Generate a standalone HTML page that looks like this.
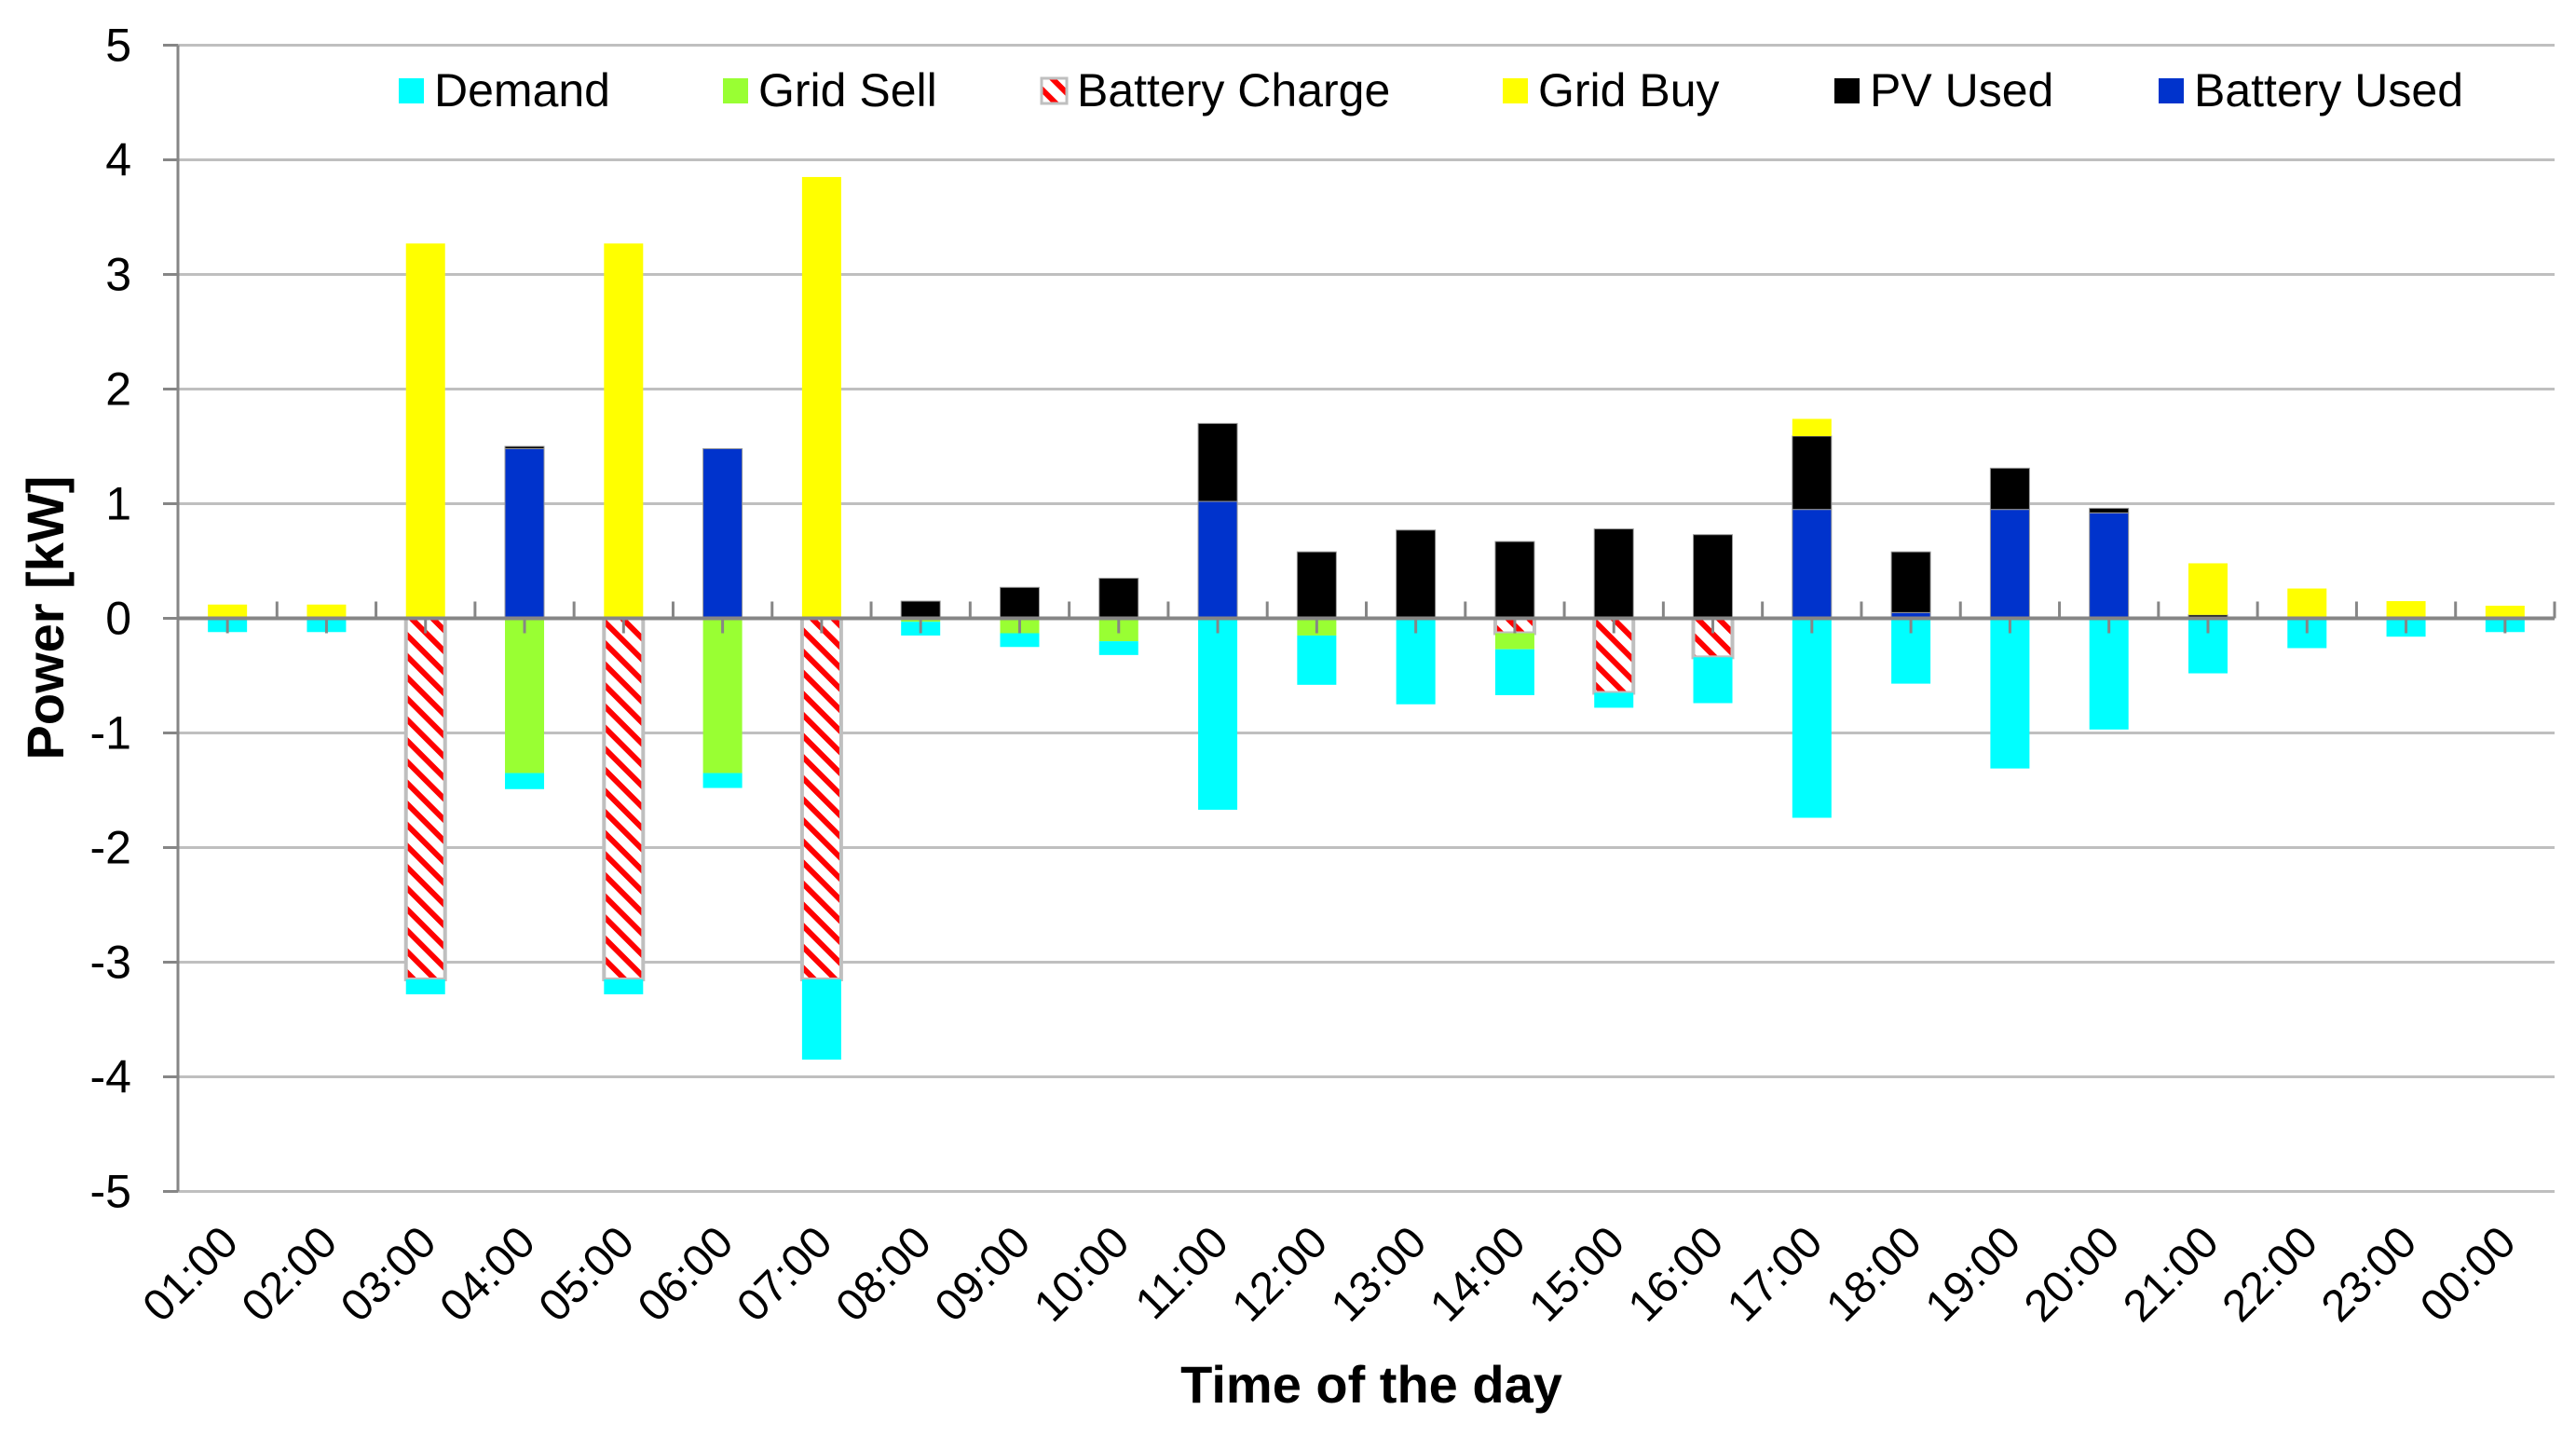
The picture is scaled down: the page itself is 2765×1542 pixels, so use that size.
<!DOCTYPE html>
<html><head><meta charset="utf-8">
<style>
html,body{margin:0;padding:0;background:#fff;}
svg{display:block;font-family:"Liberation Sans",sans-serif;}
</style></head>
<body>
<svg id="chart" width="2765" height="1542" viewBox="0 0 2765 1542" xmlns="http://www.w3.org/2000/svg">
<defs>
<pattern id="hatch" patternUnits="userSpaceOnUse" width="16" height="16" patternTransform="rotate(-45)">
<rect width="16" height="16" fill="#fff"/>
<rect x="0" y="0" width="6" height="16" fill="#ff0000"/>
</pattern>
</defs>
</svg>
<script>
const categories=["01:00","02:00","03:00","04:00","05:00","06:00","07:00","08:00","09:00","10:00","11:00","12:00","13:00","14:00","15:00","16:00","17:00","18:00","19:00","20:00","21:00","22:00","23:00","00:00"];
const batteryUsed=[0,0,0,1.48,0,1.48,0,0,0,0,1.02,0,0,0,0,0,0.95,0.05,0.95,0.92,0,0,0,0];
const pvUsed=[0,0,0,0.02,0,0,0,0.15,0.27,0.35,0.68,0.58,0.77,0.67,0.78,0.73,0.64,0.53,0.36,0.04,0.03,0,0,0];
const gridBuy=[0.12,0.12,3.27,0,3.27,0,3.85,0,0,0,0,0,0,0,0,0,0.15,0,0,0,0.45,0.26,0.15,0.11];
const batteryCharge=[0,0,-3.15,0,-3.15,0,-3.15,0,0,0,0,0,0,-0.13,-0.65,-0.34,0,0,0,0,0,0,0,0];
const gridSell=[0,0,0,-1.35,0,-1.35,0,-0.03,-0.13,-0.2,0,-0.15,0,-0.14,0,0,0,0,0,0,0,0,0,0];
const demand=[-0.12,-0.12,-0.13,-0.14,-0.13,-0.13,-0.7,-0.12,-0.12,-0.12,-1.67,-0.43,-0.75,-0.4,-0.13,-0.4,-1.74,-0.57,-1.31,-0.97,-0.48,-0.26,-0.16,-0.12];
const yTicks=[5,4,3,2,1,0,-1,-2,-3,-4,-5];

const svg=document.getElementById('chart');
const NS='http://www.w3.org/2000/svg';
const X0=191,X1=2742,Y0=663.5,UNIT=123;
const catW=(X1-X0)/categories.length, barW=42;
const yS=v=>Y0-v*UNIT;
const xC=i=>X0+(i+0.5)*catW;
function mk(tag,attrs,parent){const e=document.createElementNS(NS,tag);for(const k in attrs)e.setAttribute(k,attrs[k]);(parent||svg).appendChild(e);return e;}

yTicks.forEach(t=>{
  if(t!==0){const g=mk('line',{x1:X0,x2:X1,y1:yS(t),y2:yS(t),stroke:'#bfbfbf','stroke-width':3});
  
  }
  mk('line',{x1:X0-16,x2:X0,y1:yS(t),y2:yS(t),stroke:'#868686','stroke-width':3});
  const l=mk('text',{x:141,y:yS(t)+17,'text-anchor':'end','font-size':50,fill:'#000'});
  l.textContent=String(t);
  
  
});
const ya=mk('line',{x1:X0,x2:X0,y1:yS(5),y2:yS(-5),stroke:'#868686','stroke-width':3});



const series=[
 {name:'battery-used',data:batteryUsed,fill:'#0033cc'},
 {name:'pv-used',data:pvUsed,fill:'#000000'},
 {name:'grid-buy',data:gridBuy,fill:'#ffff00'},
 {name:'battery-charge',data:batteryCharge,fill:'url(#hatch)',stroke:'#bfbfbf'},
 {name:'grid-sell',data:gridSell,fill:'#99ff33'},
 {name:'demand',data:demand,fill:'#00ffff'}
];
const pos=categories.map(()=>0), neg=categories.map(()=>0);
series.forEach(s=>{
  s.data.forEach((v,i)=>{
    if(!v)return;
    let a,b;
    if(v>0){a=pos[i];b=a+v;pos[i]=b;}else{a=neg[i];b=a+v;neg[i]=b;}
    const top=yS(Math.max(a,b)),bot=yS(Math.min(a,b));
    const r=mk('rect',{x:xC(i)-barW/2,y:top,width:barW,height:bot-top,fill:s.fill});
    if(s.stroke){r.setAttribute('stroke',s.stroke);r.setAttribute('stroke-width',4);}
    else if(s.name==='pv-used'||s.name==='battery-used'){r.setAttribute('stroke','#999');r.setAttribute('stroke-width',1);}
    
    
  });
});

const xa=mk('line',{x1:X0,x2:X1,y1:Y0,y2:Y0,stroke:'#868686','stroke-width':4});


for(let i=0;i<=categories.length;i++){
  const x=X0+i*catW;
  mk('line',{x1:x,x2:x,y1:Y0-18,y2:Y0,stroke:'#868686','stroke-width':3});
}
categories.forEach((c,i)=>{
  mk('line',{x1:xC(i),x2:xC(i),y1:Y0,y2:Y0+16,stroke:'#868686','stroke-width':3});
  const tx=xC(i)+14, ty=1336;
  const l=mk('text',{x:tx,y:ty,'text-anchor':'end','font-size':48,fill:'#000',transform:`rotate(-45 ${tx} ${ty})`});
  l.textContent=c;
  
  
});

const xt=mk('text',{x:1472,y:1505,'text-anchor':'middle','font-size':56,'font-weight':'bold',fill:'#000'});
xt.textContent='Time of the day';


const yt=mk('text',{x:68,y:663,'text-anchor':'middle','font-size':56,'font-weight':'bold',fill:'#000',transform:'rotate(-90 68 663)'});
yt.textContent='Power [kW]';



const legendLabels=['Demand','Grid Sell','Battery Charge','Grid Buy','PV Used','Battery Used'];
const legendFills=['#00ffff','#99ff33','url(#hatch)','#ffff00','#000000','#0033cc'];
const legendX=[428,776,1118,1613,1969,2317];
legendLabels.forEach((t,i)=>{
  const g=mk('g',{});
  
  
  const r=mk('rect',{x:legendX[i],y:84,width:27,height:27,fill:legendFills[i]},g);
  if(i===2){r.setAttribute('stroke','#bfbfbf');r.setAttribute('stroke-width',3);}
  const tx=mk('text',{x:legendX[i]+38,y:114,'font-size':50,fill:'#000'},g);
  tx.textContent=t;
});
</script>
</body></html>
